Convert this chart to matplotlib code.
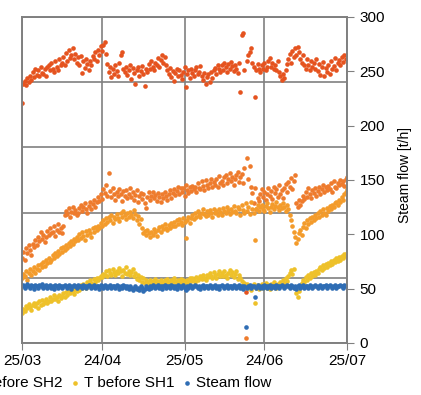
import numpy as np
import matplotlib
matplotlib.use('Agg')
import matplotlib.pyplot as plt
import matplotlib.dates as mdates

plt.rcParams['font.family'] = ['Liberation Sans', 'DejaVu Sans']

# readings every 12 h from 25/03 to 25/07
start = np.datetime64('2014-03-25T00:00')
tick_dates = ['2014-03-25', '2014-04-24', '2014-05-25', '2014-06-24', '2014-07-25']

# temperatures (left axis, not visible in the cropped original)
t_sh4 = [368, 398, 402, 396, 407, 401, 410, 404, 415, 408,
         420, 411, 418, 409, 423, 414, 412, 420, 410, 424,
         427, 418, 430, 421, 416, 432, 424, 419, 435, 426,
         430, 438, 427, 445, 433, 449, 437, 441, 452, 436,
         444, 430, 438, 426, 440, 414, 432, 422, 436, 428,
         418, 433, 427, 440, 436, 446, 432, 450, 441, 455,
         448, 457, 462, 443, 428, 415, 424, 408, 420, 412,
         426, 417, 410, 429, 441, 446, 421, 415, 424, 411,
         419, 426, 405, 422, 414, 398, 418, 423, 410, 417,
         425, 412, 394, 421, 416, 428, 420, 433, 424, 418,
         430, 426, 437, 424, 434, 441, 429, 438, 427, 419,
         413, 422, 408, 417, 402, 414, 420, 409, 418, 411,
         405, 416, 423, 393, 412, 418, 407, 421, 414, 409,
         419, 424, 412, 416, 425, 410, 403, 414, 398, 408,
         412, 401, 415, 406, 418, 422, 413, 427, 420, 416,
         426, 418, 430, 423, 415, 428, 421, 431, 425, 417,
         427, 420, 414, 429, 385, 473, 476, 418, 78, 432,
         441, 447, 452, 430, 423, 377, 419, 428, 421, 416,
         426, 420, 429, 418, 424, 432, 437, 424, 430, 420,
         426, 419, 433, 415, 410, 404, 413, 407, 418, 428,
         436, 444, 430, 448, 438, 452, 441, 454, 446, 436,
         430, 442, 427, 421, 436, 426, 418, 432, 424, 429,
         420, 435, 417, 428, 411, 424, 431, 409, 422, 416,
         427, 413, 433, 420, 425, 437, 418, 429, 434, 427,
         438, 431, 441, 436, 442]

t_sh3 = [131, 140, 128, 146, 138, 150, 143, 135, 152, 147,
         158, 151, 163, 156, 170, 160, 166, 155, 162, 172,
         165, 176, 168, 171, 180, 164, 174, 182, 170, 177,
         168, 179, 196, 203, 198, 207, 194, 201, 209, 199,
         204, 196, 200, 207, 212, 203, 208, 215, 205, 199,
         210, 217, 206, 213, 219, 208, 216, 224, 218, 228,
         221, 236, 230, 242, 226, 261, 233, 224, 238, 229,
         220, 231, 225, 236, 228, 218, 233, 226, 235, 222,
         229, 237, 224, 231, 219, 227, 234, 216, 225, 230,
         221, 228, 215, 207, 224, 232, 219, 226, 231, 222,
         227, 218, 230, 224, 216, 229, 222, 231, 225, 219,
         228, 234, 223, 230, 236, 227, 233, 240, 229, 237,
         231, 238, 226, 242, 235, 230, 239, 233, 241, 236,
         240, 232, 245, 238, 236, 248, 241, 234, 250, 243,
         238, 246, 252, 240, 247, 243, 251, 239, 256, 245,
         249, 242, 254, 258, 246, 252, 260, 248, 255, 243,
         251, 257, 262, 247, 254, 259, 245, 268, 8, 284,
         252, 271, 240, 230, 214, 238, 205, 222, 218, 229,
         236, 224, 232, 219, 228, 238, 226, 233, 221, 240,
         230, 236, 224, 242, 229, 235, 222, 238, 244, 232,
         247, 240, 253, 236, 249, 258, 214, 208, 220, 212,
         218, 226, 221, 232, 224, 237, 228, 222, 235, 230,
         238, 226, 233, 240, 229, 236, 243, 231, 239, 234,
         241, 236, 245, 232, 248, 240, 237, 246, 242, 250,
         244, 249, 241, 251, 255]

t_sh2 = [99, 106, 102, 111, 97, 108, 114, 104, 110, 116,
         107, 113, 119, 112, 121, 116, 125, 118, 128, 122,
         131, 124, 127, 135, 130, 138, 133, 141, 136, 145,
         139, 148, 143, 151, 146, 154, 149, 157, 152, 160,
         156, 163, 158, 167, 161, 170, 164, 158, 172, 166,
         174, 168, 163, 176, 171, 178, 173, 180, 177, 184,
         180, 188, 183, 191, 186, 193, 189, 196, 184, 194,
         190, 198, 192, 187, 200, 194, 203, 196, 190, 199,
         193, 201, 197, 191, 204, 198, 188, 195, 183, 190,
         176, 169, 172, 165, 174, 168, 162, 171, 166, 175,
         170, 164, 173, 178, 171, 180, 175, 182, 177, 173,
         181, 176, 184, 179, 186, 180, 188, 183, 190, 185,
         181, 192, 186, 161, 189, 194, 184, 192, 197, 190,
         199, 194, 202, 196, 193, 200, 205, 198, 195, 203,
         197, 204, 200, 194, 206, 199, 203, 197, 205, 201,
         196, 207, 202, 199, 209, 204, 198, 206, 201, 210,
         203, 199, 208, 205, 197, 211, 204, 200, 214, 202,
         209, 198, 216, 205, 199, 158, 206, 211, 203, 208,
         212, 206, 203, 210, 214, 207, 201, 209, 213, 205,
         210, 216, 208, 204, 212, 207, 215, 209, 203, 211,
         206, 196, 188, 179, 170, 162, 153, 160, 168, 174,
         166, 178, 184, 176, 188, 182, 191, 186, 194, 189,
         196, 191, 199, 193, 202, 197, 205, 200, 196, 207,
         202, 210, 205, 212, 208, 214, 217, 211, 220, 216,
         224, 219, 228, 232, 236]

t_sh1 = [46, 52, 49, 57, 53, 60, 55, 51, 58, 62,
         56, 61, 54, 64, 59, 66, 60, 63, 68, 62,
         65, 70, 64, 68, 73, 67, 71, 65, 74, 69,
         72, 76, 70, 78, 74, 81, 77, 84, 79, 75,
         83, 80, 86, 82, 89, 85, 91, 87, 84, 93,
         90, 96, 92, 88, 98, 94, 100, 96, 99, 103,
         101, 106, 104, 110, 103, 112, 108, 105, 114, 109,
         104, 111, 107, 115, 110, 103, 112, 108, 116, 106,
         111, 104, 109, 113, 102, 107, 98, 105, 96, 101,
         94, 99, 92, 97, 93, 90, 96, 91, 95, 93,
         98, 92, 95, 90, 97, 94, 91, 96, 93, 98,
         94, 92, 97, 93, 99, 95, 91, 96, 94, 98,
         92, 97, 95, 90, 96, 93, 99, 95, 100, 97,
         94, 101, 96, 99, 103, 98, 105, 100, 97, 104,
         101, 107, 103, 99, 109, 104, 100, 106, 110, 102,
         108, 103, 111, 105, 99, 107, 112, 104, 109, 101,
         106, 110, 98, 104, 100, 95, 89, 92, 86, 90,
         84, 88, 82, 87, 91, 61, 85, 89, 83, 87,
         91, 84, 88, 92, 85, 89, 83, 90, 86, 93,
         88, 84, 91, 87, 93, 89, 96, 92, 99, 95,
         103, 108, 112, 106, 114, 84, 76, 70, 80, 88,
         92, 97, 94, 101, 96, 104, 99, 107, 102, 109,
         105, 111, 107, 114, 117, 112, 119, 115, 121, 117,
         123, 119, 126, 121, 128, 124, 130, 126, 132, 128,
         134, 130, 136, 133, 138]

# steam flow [t/h] (right axis)
steam_flow = [52, 53, 51, 52, 54, 52, 51, 53, 52, 50,
              53, 52, 51, 53, 52, 54, 51, 52, 53, 51,
              52, 53, 51, 52, 50, 53, 52, 51, 53, 52,
              51, 52, 53, 52, 51, 53, 52, 50, 52, 53,
              52, 51, 53, 52, 52, 51, 53, 52, 51, 52,
              53, 52, 51, 52, 53, 51, 52, 52, 50, 53,
              52, 51, 53, 52, 51, 52, 53, 51, 52, 52,
              51, 53, 52, 50, 52, 51, 53, 52, 51, 52,
              50, 52, 51, 49, 51, 52, 50, 51, 49, 52,
              51, 48, 50, 52, 51, 50, 52, 51, 53, 52,
              51, 52, 53, 51, 52, 50, 52, 53, 51, 52,
              52, 51, 53, 52, 51, 52, 50, 53, 52, 51,
              52, 53, 51, 49, 52, 51, 53, 52, 51, 52,
              53, 52, 51, 52, 50, 52, 53, 51, 52, 52,
              51, 53, 52, 51, 52, 53, 51, 52, 50, 52,
              53, 52, 51, 52, 53, 51, 52, 52, 51, 53,
              52, 51, 52, 53, 51, 52, 50, 52, 15, 51,
              52, 53, 51, 52, 52, 42, 51, 53, 52, 51,
              52, 51, 53, 52, 51, 52, 53, 51, 52, 52,
              51, 53, 52, 51, 52, 53, 52, 51, 52, 53,
              52, 51, 53, 52, 51, 52, 50, 52, 53, 51,
              52, 53, 51, 52, 52, 51, 53, 52, 51, 52,
              53, 52, 51, 52, 53, 51, 52, 52, 53, 51,
              52, 53, 52, 51, 52, 53, 51, 52, 52, 53,
              52, 51, 53, 52, 52]

times = start + np.arange(len(steam_flow)) * np.timedelta64(12, 'h')
times = times.astype('datetime64[ms]').astype(object)
ticks = [np.datetime64(d).astype(object) for d in tick_dates]

grey = '#808080'
fig = plt.figure(figsize=(4.21, 3.95), dpi=100)
ax = fig.add_axes([22/421, 1-343/395, 325/421, 326/395])
ax2 = ax.twinx()

s = 11
series = [(t_sh4, '#e5531f', 'T before SH4'),
          (t_sh3, '#ee7b2d', 'T before SH3'),
          (t_sh2, '#f39b2b', 'T before SH2'),
          (t_sh1, '#eec12a', 'T before SH1')]
handles = []
for vals, col, lab in series:
    h = ax.scatter(times, vals, s=s, color=col, linewidths=0, label=lab)
    handles.append(h)
h = ax2.scatter(times, steam_flow, s=s, color='#2f6db4', linewidths=0, label='Steam flow')
handles.append(h)

ax.set_ylim(0, 500)
ax.set_yticks([0, 100, 200, 300, 400, 500])
ax.tick_params(axis='y', left=False, labelleft=False)
ax.set_xlim(ticks[0], ticks[-1])
ax.set_xticks(ticks)
ax.xaxis.set_major_formatter(mdates.DateFormatter('%d/%m'))
ax.tick_params(axis='x', direction='out', length=5, color=grey, labelsize=11, pad=3)
ax.grid(True, color=grey, linewidth=1.2)
ax.set_axisbelow(True)

ax2.set_ylim(0, 300)
ax2.set_yticks(range(0, 301, 50))
ax2.tick_params(axis='y', direction='out', length=5, color=grey, labelsize=11, pad=4)
ax2.set_ylabel('Steam flow [t/h]', fontsize=10)
ax2.yaxis.set_label_coords(1.157, 0.515)

for a in (ax, ax2):
    for sp in a.spines.values():
        sp.set_color(grey)
        sp.set_linewidth(1.2)

fig.legend(handles=handles, loc='center right', bbox_to_anchor=(271/421, 1-383/395),
           ncol=5, frameon=False, fontsize=11, handlelength=0.5, handletextpad=0.3,
           columnspacing=0.6, borderpad=0, borderaxespad=0, markerscale=1.0)

fig.savefig('out.png', dpi=100)
